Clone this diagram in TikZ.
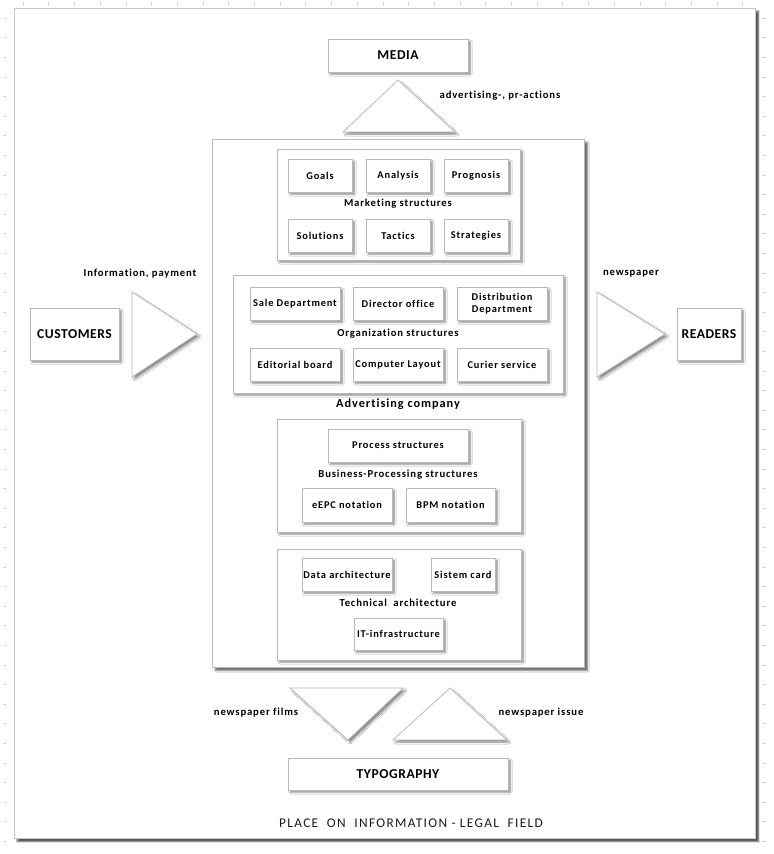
\documentclass[tikz,border=0pt]{standalone}
\usepackage{fontspec}
\setmainfont{Carlito}[Ligatures=NoCommon]
\newfontfamily\wide{Carlito}[LetterSpace=8,Ligatures=NoCommon]
\newfontfamily\wider{Carlito}[LetterSpace=10,Ligatures=NoCommon]
\newfontfamily\bigw{Carlito}[LetterSpace=4,Ligatures=NoCommon]
\usetikzlibrary{shadows.blur}
\tikzset{
  shd/.style={blur shadow={shadow xshift=1.8pt, shadow yshift=-1.8pt, shadow blur steps=6, shadow blur radius=1.2pt, shadow opacity=45}},
  sbox/.style={draw=gray!55, line width=0.6pt, fill=white, shd, inner sep=0pt, align=center,
     font=\wide\fontsize{7.8}{9}\selectfont\bfseries},
  bigbox/.style={sbox, font=\bigw\fontsize{10.2}{12}\selectfont\bfseries},
  lbl/.style={inner sep=0pt, font=\wide\fontsize{8}{9}\selectfont\bfseries},
  blbl/.style={inner sep=0pt, font=\wide\fontsize{9.2}{11}\selectfont\bfseries},
  tri/.style={draw=gray!55, line width=0.6pt, fill=white, shd},
  tick/.style={draw=gray!45, line width=0.4pt}
}
% \bx[style]{name}{x1}{y1}{x2}{y2}{text}
\newcommand\bx[7][sbox]{\node[#1, minimum width={(#5-#3)*0.75pt}, minimum height={(#6-#4)*0.75pt}] (#2) at ({(#3+#5)/2},{(#4+#6)/2}) {#7};}
\begin{document}
\begin{tikzpicture}[x=0.75pt,y=-0.75pt]
\useasboundingbox[fill=white] (0,0) rectangle (774,854);
% ruler ticks
\foreach \i in {0,...,28} {\draw[tick] ({23+\i*25.7},2) -- ({23+\i*25.7},5);}
\foreach \i in {0,...,42} {\draw[tick] (4,{18+\i*19.6}) -- (6,{18+\i*19.6});}
\foreach \i in {0,...,42} {\draw[tick] (763,{18+\i*19.6}) -- (766,{18+\i*19.6});}
% outer frame
\node[draw=gray!45, line width=0.6pt, fill=white, inner sep=0pt,
  blur shadow={shadow xshift=2.8pt, shadow yshift=-2.8pt, shadow blur steps=4, shadow blur radius=0.8pt, shadow opacity=65},
  minimum width={741*0.75pt}, minimum height={830*0.75pt}] (field) at (384.5,423) {};
\node[inner sep=0pt, font=\wider\fontsize{10}{12}\selectfont, text=black!90] (fieldlbl) at (411,823) {PLACE\ \ ON\ \ INFORMATION - LEGAL\ \ FIELD};

% MEDIA
\bx[bigbox]{media}{328}{39}{468}{72}{MEDIA}
\coordinate (t1a) at (343,132); \coordinate (t1b) at (398,80); \coordinate (t1c) at (455,132);
\draw[tri] (t1a) -- (t1b) -- (t1c) -- cycle;
\node[lbl] (adv) at (500,96) {advertising-, pr-actions};

% main company box
\node[draw=gray!55, line width=0.6pt, fill=white, inner sep=0pt,
  blur shadow={shadow xshift=2.8pt, shadow yshift=-2.8pt, shadow blur steps=5, shadow blur radius=1pt, shadow opacity=55},
  minimum width={(584-212)*0.75pt}, minimum height={(667-139)*0.75pt}] (company) at ({(212+584)/2},{(139+667)/2}) {};

% marketing
\bx{mkt}{277}{149}{520}{260}{}
\bx{goals}{288}{159}{352}{192}{Goals}
\bx{analysis}{366}{159}{430}{192}{Analysis}
\bx{prognosis}{444}{159}{508}{192}{Prognosis}
\node[lbl] (mktlbl) at (398,204) {Marketing structures};
\bx{solutions}{288}{219}{352}{252}{Solutions}
\bx{tactics}{366}{219}{430}{252}{Tactics}
\bx{strategies}{444}{219}{508}{252}{Strategies}

% organization
\bx{org}{233}{275}{563}{393}{}
\bx{sale}{250}{287}{340}{320}{Sale Department}
\bx{director}{353}{287}{443}{320}{Director office}
\bx{distrib}{457}{287}{547}{320}{Distribution\\Department}
\node[lbl] (orglbl) at (398,334) {Organization structures};
\bx{editorial}{250}{348}{340}{381}{Editorial board}
\bx{layout}{353}{348}{443}{381}{Computer Layout}
\bx{curier}{457}{348}{547}{381}{Curier service}
\node[blbl] (complbl) at (398,404) {Advertising company};

% business processing
\bx{bp}{277}{419}{521}{532}{}
\bx{process}{328}{429}{468}{462}{Process structures}
\node[lbl] (bplbl) at (398,475) {Business-Processing structures};
\bx{eepc}{302}{488}{392}{522}{eEPC notation}
\bx{bpm}{406}{488}{495}{522}{BPM notation}

% technical
\bx{tech}{277}{549}{521}{660}{}
\bx{data}{302}{558}{392}{591}{Data architecture}
\bx{sistem}{431}{558}{495}{591}{Sistem card}
\node[lbl] (techlbl) at (398,603) {Technical\ \ architecture};
\bx{itinfra}{354}{618}{443}{650}{IT-infrastructure}

% customers
\bx[bigbox]{customers}{30}{308}{119}{360}{CUSTOMERS}
\coordinate (t2a) at (132,292); \coordinate (t2b) at (197,334); \coordinate (t2c) at (132,377);
\draw[tri] (t2a) -- (t2b) -- (t2c) -- cycle;
\node[lbl] (info) at (140,274) {Information, payment};

% readers
\coordinate (t3a) at (597,292); \coordinate (t3b) at (665,334); \coordinate (t3c) at (597,377);
\draw[tri] (t3a) -- (t3b) -- (t3c) -- cycle;
\node[lbl] (news) at (631,274) {newspaper};
\bx[bigbox]{readers}{677}{308}{741}{360}{READERS}

% bottom
\coordinate (t4a) at (290,688); \coordinate (t4b) at (403,688); \coordinate (t4c) at (348,740);
\draw[tri] (t4a) -- (t4b) -- (t4c) -- cycle;
\coordinate (t5a) at (393,740); \coordinate (t5b) at (450,688); \coordinate (t5c) at (507,740);
\draw[tri] (t5a) -- (t5b) -- (t5c) -- cycle;
\node[lbl] (films) at (256,713) {newspaper films};
\node[lbl] (issue) at (541,713) {newspaper issue};
\bx[bigbox]{typo}{288}{758}{508}{790}{TYPOGRAPHY}
\end{tikzpicture}
\end{document}
